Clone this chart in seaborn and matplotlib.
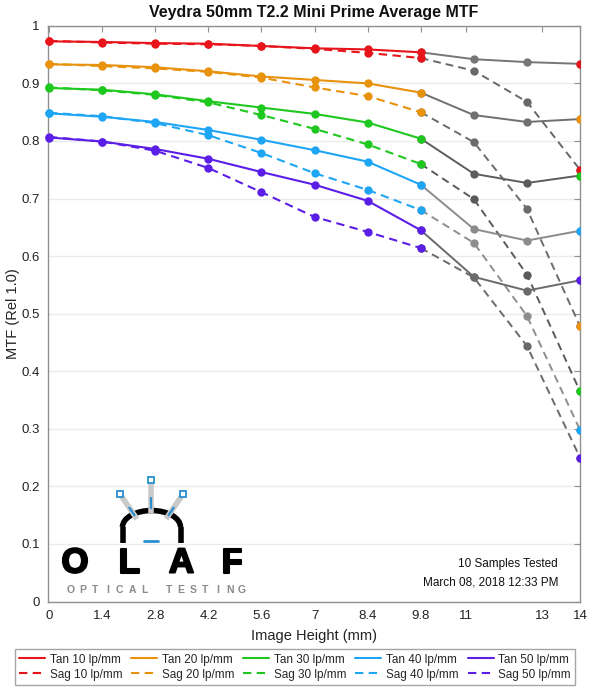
import numpy as np
import pandas as pd
import matplotlib
matplotlib.use("Agg")
import matplotlib.pyplot as plt
import matplotlib.patheffects as pe
import seaborn as sns
from matplotlib.lines import Line2D
from matplotlib.patches import Arc

# Data
x_mm = [0, 1.4, 2.8, 4.2, 5.6, 7, 8.4, 9.8, 11.2, 12.6, 14]
freqs = [10, 20, 30, 40, 50]

tan_10 = [0.973, 0.972, 0.970, 0.969, 0.965, 0.961, 0.959, 0.954, 0.942, 0.937, 0.934]
tan_20 = [0.933, 0.932, 0.928, 0.921, 0.912, 0.906, 0.900, 0.884, 0.845, 0.833, 0.838]
tan_30 = [0.892, 0.889, 0.881, 0.869, 0.858, 0.847, 0.832, 0.804, 0.743, 0.727, 0.740]
tan_40 = [0.848, 0.842, 0.833, 0.819, 0.802, 0.784, 0.764, 0.724, 0.647, 0.627, 0.644]
tan_50 = [0.806, 0.799, 0.786, 0.769, 0.746, 0.724, 0.696, 0.645, 0.564, 0.540, 0.558]

sag_10 = [0.974, 0.971, 0.969, 0.968, 0.965, 0.960, 0.953, 0.944, 0.922, 0.868, 0.750]
sag_20 = [0.934, 0.930, 0.926, 0.920, 0.910, 0.893, 0.878, 0.850, 0.798, 0.682, 0.478]
sag_30 = [0.893, 0.888, 0.880, 0.867, 0.845, 0.821, 0.794, 0.760, 0.699, 0.568, 0.365]
sag_40 = [0.849, 0.843, 0.831, 0.810, 0.779, 0.744, 0.715, 0.680, 0.623, 0.496, 0.298]
sag_50 = [0.807, 0.799, 0.783, 0.753, 0.711, 0.668, 0.642, 0.614, 0.563, 0.444, 0.250]

xtick_vals = [0, 1.4, 2.8, 4.2, 5.6, 7, 8.4, 9.8, 11, 13, 14]
xtick_labels = ["0", "1.4", "2.8", "4.2", "5.6", "7", "8.4", "9.8", "11", "13", "14"]
ytick_vals = [0, 0.1, 0.2, 0.3, 0.4, 0.5, 0.6, 0.7, 0.8, 0.9, 1.0]
ytick_labels = ["0", "0.1", "0.2", "0.3", "0.4", "0.5", "0.6", "0.7", "0.8", "0.9", "1"]

colors = ["#e8141c", "#e8920e", "#1ec81e", "#1ea6f5", "#5a1ee6"]
tan_grays = ["#767676", "#707070", "#5c5c5c", "#8c8c8c", "#6a6a6a"]
sag_grays = ["#686868", "#6c6c6c", "#5a5a5a", "#8e8e8e", "#6a6a6a"]

tan_series = [tan_10, tan_20, tan_30, tan_40, tan_50]
sag_series = [sag_10, sag_20, sag_30, sag_40, sag_50]

sns.set_style("white")
plt.rcParams["font.family"] = ["Liberation Sans", "DejaVu Sans"]

fig = plt.figure(figsize=(6, 7), dpi=100)
ax = fig.add_axes([0.08, 0.1407, 0.8867, 0.8224])

x = np.array(x_mm)
cut = 7  # index of 9.8 mm, where the coloured part stops
ms = 6.0
dash = (4, 2.6)

# gray outer part first, coloured part over it
for i in range(5):
    for vals, gray, ls in [(tan_series[i], tan_grays[i], "-"), (sag_series[i], sag_grays[i], "--")]:
        v = np.array(vals)
        kw = dict(color=gray, lw=1.4, marker="o", markersize=ms, markeredgewidth=0,
                  ax=ax, zorder=2, legend=False)
        if ls == "--":
            kw["dashes"] = dash
        sns.lineplot(x=x[cut:], y=v[cut:], **kw)

for i in range(5):
    for vals, ls in [(sag_series[i], "--"), (tan_series[i], "-")]:
        v = np.array(vals)
        kw = dict(color=colors[i], lw=1.5, marker="o", markersize=ms, markeredgewidth=0,
                  ax=ax, zorder=3, legend=False, clip_on=False)
        if ls == "--":
            kw["dashes"] = dash
        sns.lineplot(x=x[:cut + 1], y=v[:cut + 1], **kw)
        # coloured dot at the edge, clipped by the frame
        ax.plot([x[-1]], [v[-1]], "o", color=colors[i], markersize=ms,
                markeredgewidth=0, zorder=4)

ax.set_xlim(-0.03, 14)
ax.set_ylim(0, 1)
ax.set_xticks(xtick_vals)
ax.set_xticklabels(xtick_labels)
ax.set_yticks(ytick_vals)
ax.set_yticklabels(ytick_labels)
ax.yaxis.grid(True, color="#ebebeb", lw=1)
ax.xaxis.grid(False)
ax.set_axisbelow(True)
for s in ax.spines.values():
    s.set_color("#8f8f8f")
    s.set_linewidth(1.0)
ax.tick_params(direction="in", top=True, right=True, length=4, width=0.8,
               color="#8f8f8f", labelsize=9.5, labelcolor="#222222", pad=6)
ax.set_xlabel("Image Height (mm)", fontsize=10.5, color="#222222", labelpad=5)
ax.set_ylabel("MTF (Rel 1.0)", fontsize=10.5, color="#222222", labelpad=1)
ax.set_title("Veydra 50mm T2.2 Mini Prime Average MTF", fontsize=11.5,
             fontweight="bold", color="#111111", pad=6)

ax.text(0.9575, 0.0655, "10 Samples Tested", transform=ax.transAxes,
        ha="right", va="center", fontsize=8.5, color="#111111")
ax.text(0.9595, 0.0325, "March 08, 2018 12:33 PM", transform=ax.transAxes,
        ha="right", va="center", fontsize=8.5, color="#111111")

# legend
handles = []
for i, f in enumerate(freqs):
    handles.append(Line2D([], [], color=colors[i], lw=1.5, label=f"Tan {f} lp/mm"))
    handles.append(Line2D([], [], color=colors[i], lw=1.5, dashes=dash,
                          label=f"Sag {f} lp/mm"))
leg = fig.legend(handles=handles, ncol=5, loc="center",
                 bbox_to_anchor=(0.4917, 0.0471), fontsize=8.5, frameon=True,
                 fancybox=False, handlelength=2.2, handletextpad=0.4,
                 columnspacing=0.75, borderpad=0.35, labelspacing=0.25,
                 borderaxespad=0)
leg.get_frame().set_edgecolor("#8f8f8f")
leg.get_frame().set_linewidth(1.0)

# OLAF logo, drawn in figure pixel coordinates
ov = fig.add_axes([0, 0, 1, 1], zorder=5)
ov.set_xlim(0, 600)
ov.set_ylim(700, 0)
ov.axis("off")
ov.patch.set_alpha(0)

blue = "#2a8fd0"
ov.add_patch(Arc((151.5, 527), 58, 33, theta1=180, theta2=360, lw=4.0, color="black"))
ov.plot([122.5, 122.5], [527, 543], color="black", lw=4.0, solid_capstyle="butt")
ov.plot([180.5, 180.5], [527, 543], color="black", lw=4.0, solid_capstyle="butt")
ov.plot([144, 158], [541, 541], color=blue, lw=2.0)
rods = [((120, 494), (137, 519)), ((151, 480), (151, 513)), ((183, 494), (166, 519))]
for (x0, y0), (x1, y1) in rods:
    ov.plot([x0, x1], [y0, y1], color="#c9c9c9", lw=4.0, solid_capstyle="butt")
    ov.plot([x0], [y0], marker="s", markersize=4.5, markerfacecolor="white",
            markeredgecolor=blue, markeredgewidth=1.3)
    mx0 = x0 + (x1 - x0) * 0.55
    my0 = y0 + (y1 - y0) * 0.55
    mx1 = x0 + (x1 - x0) * 0.85
    my1 = y0 + (y1 - y0) * 0.85
    ov.plot([mx0, mx1], [my0, my1], color=blue, lw=1.6)

for ch, cx in zip("OLAF", [75, 129, 181.5, 232]):
    ov.text(cx, 563, ch, ha="center", va="center", fontsize=25,
            fontweight="bold", color="black",
            path_effects=[pe.withStroke(linewidth=1.5, foreground="black")])
sub = "OPTICAL TESTING"
for k, ch in enumerate(sub):
    ov.text(71 + k * 12.2, 590, ch, ha="center", va="center", fontsize=7.5,
            fontweight="bold", color="#8a8a8a")

fig.savefig("out.png", dpi=100)
